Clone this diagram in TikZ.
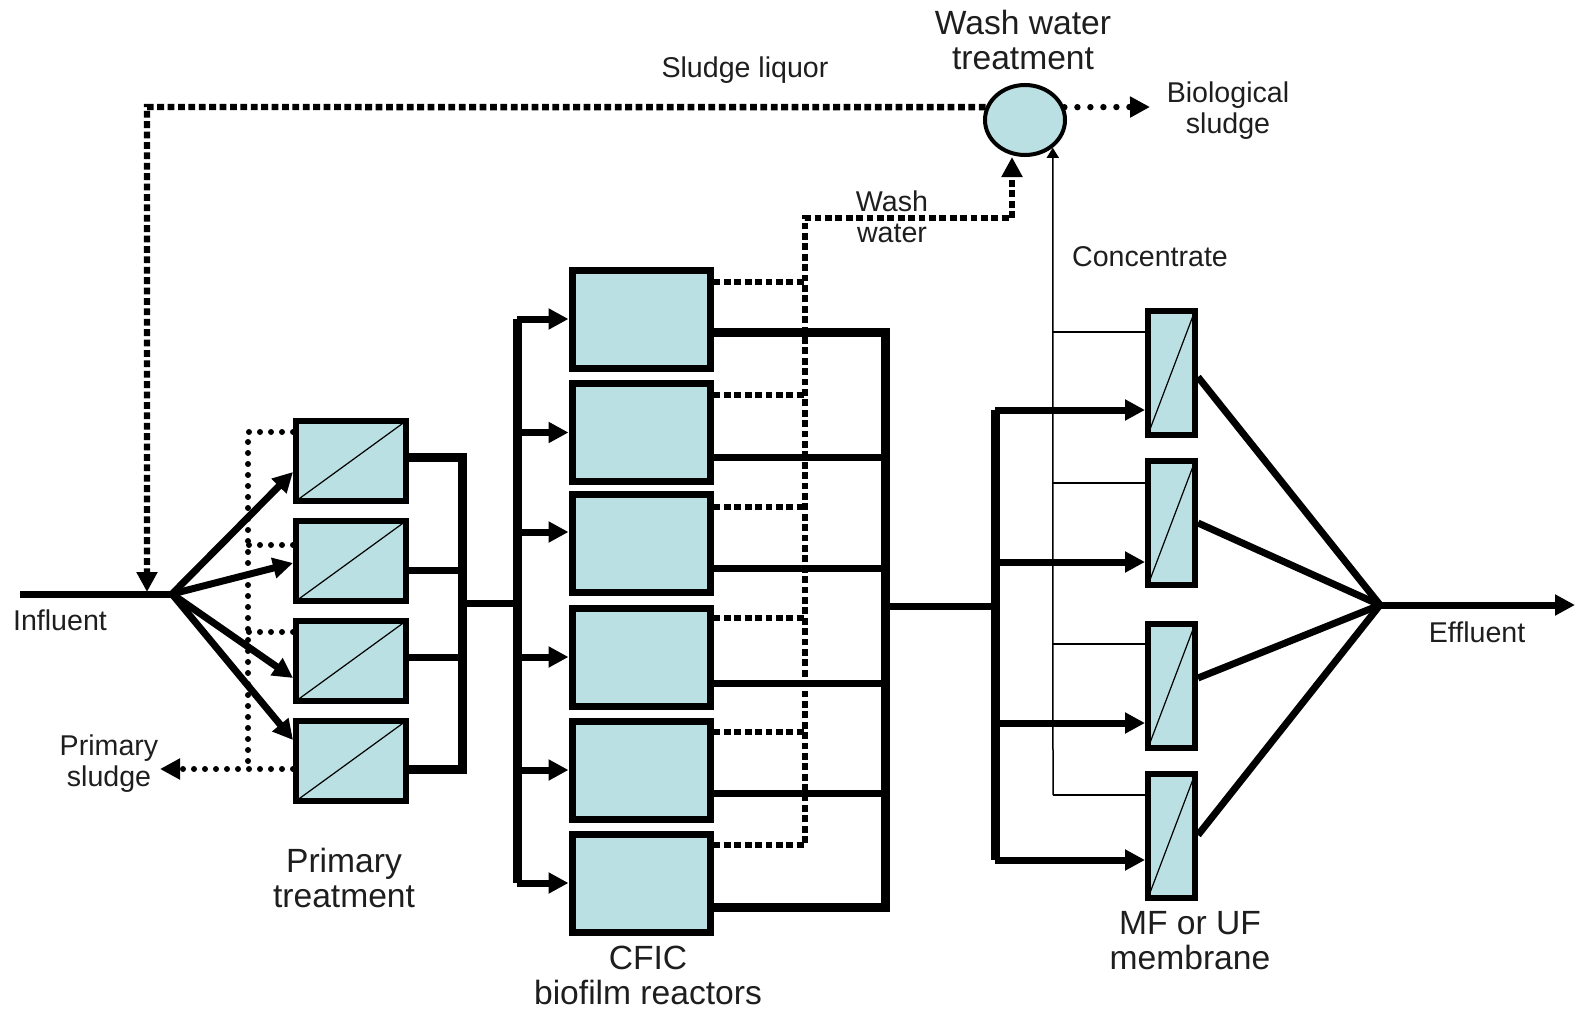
\documentclass[tikz,border=0pt]{standalone}
\usepackage{fontspec}
\setmainfont{Liberation Sans}
\usepackage{tikz}
\usetikzlibrary{arrows.meta,shapes.geometric}
\definecolor{wwblue}{RGB}{187,224,227}
\definecolor{wwink}{RGB}{30,30,30}
\tikzset{
  primnode/.style={rectangle,draw=black,line width=3pt,fill=wwblue,minimum width=55pt,minimum height=40pt,inner sep=0pt,
    path picture={\draw[line width=0.6pt] (path picture bounding box.south west) -- (path picture bounding box.north east);}},
  reactnode/.style={rectangle,draw=black,line width=3.5pt,fill=wwblue,minimum width=69pt,minimum height=49pt,inner sep=0pt},
  membnode/.style={rectangle,draw=black,line width=3pt,fill=wwblue,minimum width=23.5pt,minimum height=62pt,inner sep=0pt,
    path picture={\draw[line width=0.6pt] (path picture bounding box.south west) -- (path picture bounding box.north east);}},
  tanknode/.style={ellipse,draw=black,line width=2pt,fill=wwblue,minimum width=40pt,minimum height=35pt,inner sep=0pt},
  smalltext/.style={font=\fontsize{14.3}{15.5}\selectfont,text=wwink,align=center,inner sep=0pt},
  bigtext/.style={font=\fontsize{16.8}{17.5}\selectfont,text=wwink,align=center,inner sep=0pt},
  flowline/.style={line width=3.5pt,draw=black},
  busline/.style={line width=4.5pt,draw=black},
  flowarrow/.style={flowline,-{Triangle[length=10pt,width=10pt]}},
  washline/.style={line width=3.2pt,dash pattern=on 3.4pt off 1.8pt},
  dotline/.style={line width=3pt,line cap=round,dash pattern=on 0pt off 5.5pt},
  dotarrow/.style={-{Triangle[length=10pt,width=10pt]}},
  concline/.style={line width=0.75pt,draw=black}
}
\begin{document}
\begin{tikzpicture}[x=0.5pt,y=-0.5pt]
  \useasboundingbox (0,0) rectangle (1578,1011);
  % primary treatment
  \node[primnode] (p1) at (351,461) {};
  \node[primnode] (p2) at (351,561) {};
  \node[primnode] (p3) at (351,661) {};
  \node[primnode] (p4) at (351,761) {};
  % CFIC reactors
  \node[reactnode] (r1) at (641,319) {};
  \node[reactnode] (r2) at (641,432.5) {};
  \node[reactnode] (r3) at (641,543.5) {};
  \node[reactnode] (r4) at (641,657) {};
  \node[reactnode] (r5) at (641,770) {};
  \node[reactnode] (r6) at (641,883) {};
  % membranes
  \node[membnode] (m1) at (1171.5,372.5) {};
  \node[membnode] (m2) at (1171.5,523) {};
  \node[membnode] (m3) at (1171.5,686) {};
  \node[membnode] (m4) at (1171.5,836) {};
  \node[tanknode] (tank) at (1025,120) {};

  \coordinate (infl) at (20,594);
  \coordinate (split) at (172,594);
  \coordinate (pbusT) at (462,457);
  \coordinate (pbusB) at (462,769);
  \coordinate (rbusT) at (517,319);
  \coordinate (rbusB) at (517,883);
  \coordinate (rcolT) at (885,332);
  \coordinate (rcolB) at (885,907);
  \coordinate (mbusT) at (995,410);
  \coordinate (mbusB) at (995,860);
  \coordinate (conv) at (1380,605);
  \coordinate (effl) at (1575,605);
  \coordinate (cbusB) at (1053,795);
  \coordinate (wwB) at (805,845);
  \coordinate (wwT) at (805,218);
  \coordinate (wwR) at (1012,218);
  \coordinate (slT) at (147,107);
  \coordinate (slB) at (147,592);
  \coordinate (bios) at (1150,107);
  \coordinate (psT) at (248,432);
  \coordinate (psB) at (248,769);
  \coordinate (psOut) at (160,769);

  % main flow
  \draw[flowline] (infl) -- (split);
  \draw[flowarrow] (split) -- (p1.west |- 0,472);
  \draw[flowarrow] (split) -- (p2.west |- 0,563);
  \draw[flowarrow] (split) -- (p3.west |- 0,678);
  \draw[flowarrow] (split) -- (p4.west |- 0,740);
  \draw[busline] (p1.east |- pbusT) -- (pbusT) -- (pbusB) -- (p4.east |- pbusB);
  \draw[flowline] (p2.east |- 0,570) -- (pbusT |- 0,570);
  \draw[flowline] (p3.east |- 0,657) -- (pbusT |- 0,657);
  \draw[flowline] (pbusT |- 0,603) -- (rbusT |- 0,603);
  \draw[busline] (rbusT) -- (rbusB);
  \draw[flowarrow] (rbusT) -- (r1.west);
  \draw[flowarrow] (rbusT |- r2) -- (r2.west);
  \draw[flowarrow] (rbusT |- 0,532) -- (r3.west |- 0,532);
  \draw[flowarrow] (rbusT |- r4) -- (r4.west);
  \draw[flowarrow] (rbusT |- r5) -- (r5.west);
  \draw[flowarrow] (rbusB) -- (r6.west);
  \draw[busline] (r1.east |- rcolT) -- (rcolT) -- (rcolB) -- (r6.east |- rcolB);
  \draw[flowline] (r2.east |- 0,457) -- (rcolT |- 0,457);
  \draw[flowline] (r3.east |- 0,568) -- (rcolT |- 0,568);
  \draw[flowline] (r4.east |- 0,683) -- (rcolT |- 0,683);
  \draw[flowline] (r5.east |- 0,793) -- (rcolT |- 0,793);
  \draw[flowline] (rcolT |- 0,606) -- (mbusT |- 0,606);
  \draw[busline] (mbusT) -- (mbusB);
  \draw[flowarrow] (mbusT) -- (m1.west |- mbusT);
  \draw[flowarrow] (mbusT |- 0,562) -- (m2.west |- 0,562);
  \draw[flowarrow] (mbusT |- 0,723) -- (m3.west |- 0,723);
  \draw[flowarrow] (mbusB) -- (m4.west |- mbusB);
  \draw[flowline] (m1.east |- 0,377) -- (conv);
  \draw[flowline] (m2.east |- 0,523) -- (conv);
  \draw[flowline] (m3.east |- 0,678) -- (conv);
  \draw[flowline] (m4.east |- 0,835) -- (conv);
  \draw[flowarrow] (conv) -- (effl);

  % concentrate
  \draw[concline,-{Triangle[length=5pt,width=6pt]}] (cbusB) -- (tank.315);
  \draw[concline] (cbusB) -- (m4.west |- cbusB);
  \draw[concline] (cbusB |- 0,332) -- (m1.west |- 0,332);
  \draw[concline] (cbusB |- 0,483) -- (m2.west |- 0,483);
  \draw[concline] (cbusB |- 0,644) -- (m3.west |- 0,644);

  % wash water and sludge
  \draw[washline] (r1.east |- 0,282) -- (wwT |- 0,282);
  \draw[washline] (r2.east |- 0,395) -- (wwT |- 0,395);
  \draw[washline] (r3.east |- 0,507) -- (wwT |- 0,507);
  \draw[washline] (r4.east |- 0,618) -- (wwT |- 0,618);
  \draw[washline] (r5.east |- 0,732) -- (wwT |- 0,732);
  \draw[washline,dotarrow] (r6.east |- wwB) -- (wwB) -- (wwT) -- (wwR) -- (wwR |- tank.south);
  \draw[washline,dotarrow] (tank.162) -- (slT) -- (slB);
  \draw[dotline,line width=3.2pt,dash pattern=on 0pt off 6.5pt,dotarrow] (tank.18) -- (bios);
  \draw[dotline] (p1.west |- psT) -- (psT) -- (psB);
  \draw[dotline] (p2.west |- 0,545) -- (psT |- 0,545);
  \draw[dotline] (p3.west |- 0,632) -- (psT |- 0,632);
  \draw[dotline,dotarrow] (p4.west |- psB) -- (psOut);

  % labels
  \node[smalltext] (tinfl) at (60,620) {Influent};
  \node[smalltext] (tpsl) at (109,764) {Primary\\sludge};
  \node[bigtext] (tprim) at (344,878) {Primary\\treatment};
  \node[bigtext] (tcfic) at (648,975) {CFIC\\biofilm reactors};
  \node[bigtext] (tmemb) at (1190,941) {MF or UF\\membrane};
  \node[smalltext] (teffl) at (1477,632) {Effluent};
  \node[smalltext] (tliq) at (745,70) {Sludge liquor};
  \node[bigtext] (ttank) at (1023,40) {Wash water\\treatment};
  \node[smalltext] (tbio) at (1228,111) {Biological\\sludge};
  \node[smalltext] (twash) at (892,217) {Wash\\water};
  \node[smalltext] (tconc) at (1150,257) {Concentrate};
\end{tikzpicture}
\end{document}
